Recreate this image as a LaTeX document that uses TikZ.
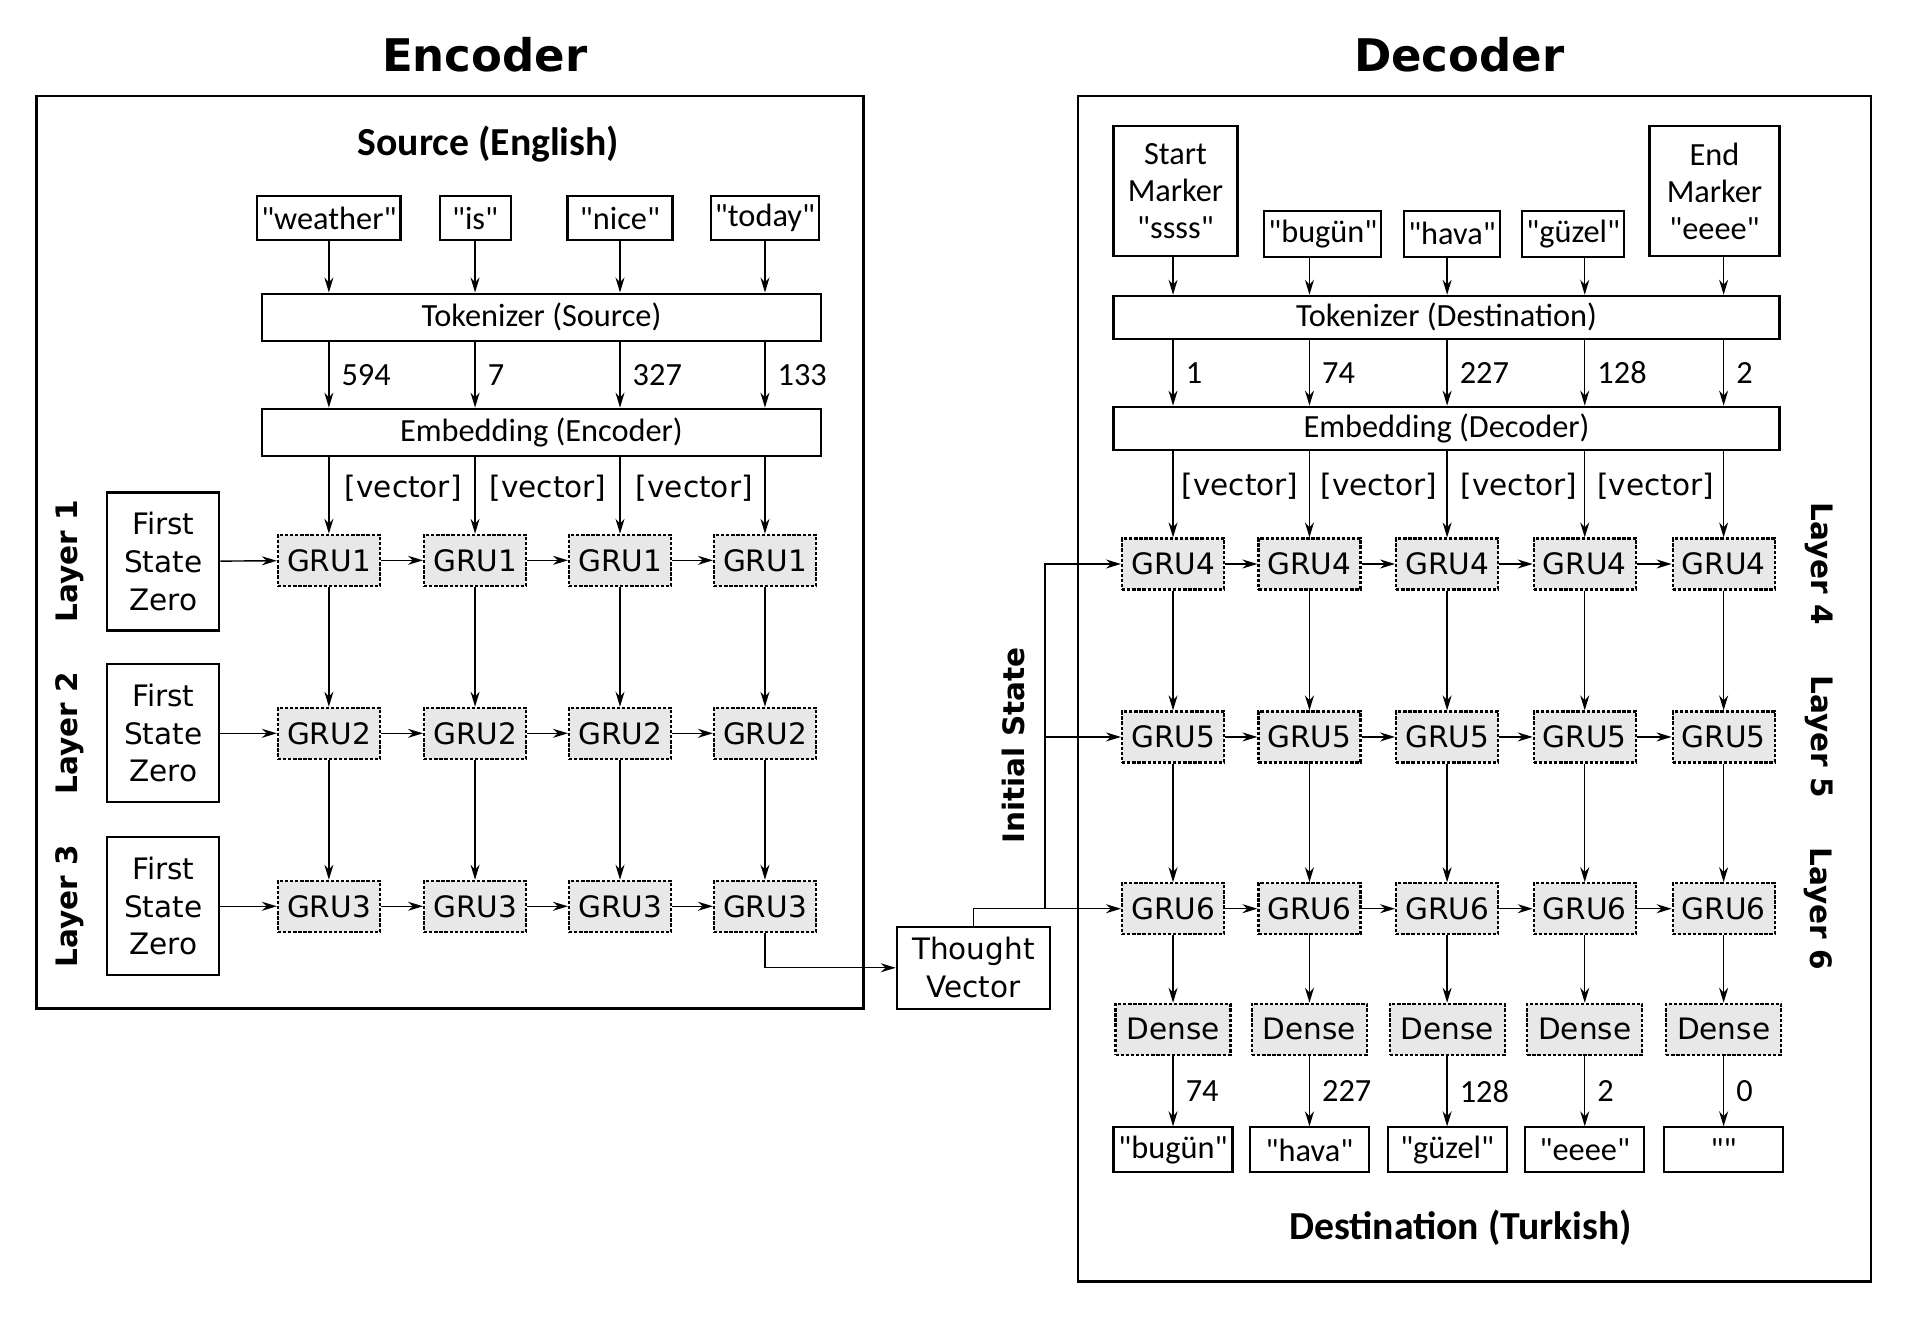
\documentclass[tikz,border=0pt]{standalone}
\usepackage{fontspec}
\setmainfont{Carlito}[Ligatures=TeXOff]
\newfontfamily\djv{DejaVu Sans}
\usetikzlibrary{arrows.meta}

\tikzset{
  box/.style={draw, line width=0.6pt, inner xsep=0.4mm, inner ysep=0.3mm,
    align=center, font=\fontsize{9.2}{10.6}\selectfont},
  grubox/.style={draw, line width=0.6pt, dash pattern=on 0.95pt off 0.5pt,
    fill=black!9, minimum width=10.2mm, minimum height=5.1mm, inner sep=0pt,
    font=\djv\fontsize{8.4}{10.7}\selectfont},
  densebox/.style={grubox, minimum width=11.5mm},
  djvbox/.style={draw, line width=0.6pt, inner sep=0pt, align=center,
    font=\djv\fontsize{8.4}{10.7}\selectfont},
  arr/.style={-{Stealth[length=1.5mm,width=0.9mm]}, line width=0.4pt},
  num/.style={right, xshift=0.9mm, inner sep=0.3mm, font=\fontsize{9.2}{10}\selectfont},
  vec/.style={font=\djv\fontsize{8.4}{10}\selectfont},
  lyr/.style={font=\djv\bfseries\fontsize{8.4}{10}\selectfont},
  frame/.style={line width=0.7pt},
  title/.style={font=\djv\bfseries\fontsize{12.8}{14}\selectfont},
  subtitle/.style={font=\bfseries\fontsize{11.3}{13}\selectfont}
}

\begin{document}
\begin{tikzpicture}[x=0.12181mm, y=-0.12181mm]
  \useasboundingbox (0,0) rectangle (1568,1082);

  % encoder
  \node[title] (enc) at (398,45) {Encoder};
  \draw[frame] (30,79) rectangle (709,828);
  \node[subtitle] (src) at (401,118) {Source (English)};

  \node[box, minimum width=13.4mm, minimum height=4.4mm] (w1) at (270,179) {"weather"};
  \node[box, minimum width=7.1mm, minimum height=4.4mm] (w2) at (390,179) {"is"};
  \node[box, minimum width=10.5mm, minimum height=4.4mm] (w3) at (509,179) {"nice"};
  \node[box, minimum width=10.5mm, minimum height=4.4mm] (w4) at (628,179) {"today"};

  \node[box, minimum width=55.9mm, minimum height=4.75mm] (tok) at (444.5,260.5) {Tokenizer (Source)};
  \node[box, minimum width=55.9mm, minimum height=4.75mm] (emb) at (444.5,355) {Embedding (Encoder)};

  \node[vec] (v1) at (331,401) {[vector]};
  \node[vec] (v2) at (450,401) {[vector]};
  \node[vec] (v3) at (570,401) {[vector]};

  \node[djvbox, minimum width=11.2mm, minimum height=13.8mm] (fz1) at (134,461) {First\\State\\Zero};
  \node[djvbox, minimum width=11.2mm, minimum height=13.8mm] (fz2) at (134,602) {First\\State\\Zero};
  \node[djvbox, minimum width=11.2mm, minimum height=13.8mm] (fz3) at (134,744) {First\\State\\Zero};

  \node[lyr, rotate=90] (l1) at (57,461) {Layer 1};
  \node[lyr, rotate=90] (l2) at (57,602) {Layer 2};
  \node[lyr, rotate=90] (l3) at (57,744) {Layer 3};

  \node[grubox] (g11) at (270,460) {GRU1};
  \node[grubox] (g12) at (390,460) {GRU1};
  \node[grubox] (g13) at (509,460) {GRU1};
  \node[grubox] (g14) at (628,460) {GRU1};
  \node[grubox] (g21) at (270,602) {GRU2};
  \node[grubox] (g22) at (390,602) {GRU2};
  \node[grubox] (g23) at (509,602) {GRU2};
  \node[grubox] (g24) at (628,602) {GRU2};
  \node[grubox] (g31) at (270,744) {GRU3};
  \node[grubox] (g32) at (390,744) {GRU3};
  \node[grubox] (g33) at (509,744) {GRU3};
  \node[grubox] (g34) at (628,744) {GRU3};

  \node[djvbox, minimum width=15.3mm, minimum height=8.2mm] (tv) at (799,794.5) {Thought\\Vector};

  \draw[arr] (w1) -- (w1 |- tok.north);
  \draw[arr] (w2) -- (w2 |- tok.north);
  \draw[arr] (w3) -- (w3 |- tok.north);
  \draw[arr] (w4) -- (w4 |- tok.north);
  \draw[arr] (tok.south -| g11) -- node[num] {594} (emb.north -| g11);
  \draw[arr] (tok.south -| g12) -- node[num] {7} (emb.north -| g12);
  \draw[arr] (tok.south -| g13) -- node[num] {327} (emb.north -| g13);
  \draw[arr] (tok.south -| g14) -- node[num] {133} (emb.north -| g14);
  \draw[arr] (emb.south -| g11) -- (g11);
  \draw[arr] (emb.south -| g12) -- (g12);
  \draw[arr] (emb.south -| g13) -- (g13);
  \draw[arr] (emb.south -| g14) -- (g14);

  \draw[arr] (fz1) -- (g11);
  \draw[arr] (g11) -- (g12);
  \draw[arr] (g12) -- (g13);
  \draw[arr] (g13) -- (g14);
  \draw[arr] (fz2) -- (g21);
  \draw[arr] (g21) -- (g22);
  \draw[arr] (g22) -- (g23);
  \draw[arr] (g23) -- (g24);
  \draw[arr] (fz3) -- (g31);
  \draw[arr] (g31) -- (g32);
  \draw[arr] (g32) -- (g33);
  \draw[arr] (g33) -- (g34);

  \draw[arr] (g11) -- (g21);
  \draw[arr] (g12) -- (g22);
  \draw[arr] (g13) -- (g23);
  \draw[arr] (g14) -- (g24);
  \draw[arr] (g21) -- (g31);
  \draw[arr] (g22) -- (g32);
  \draw[arr] (g23) -- (g33);
  \draw[arr] (g24) -- (g34);

  \draw[arr] (g34.south) |- (tv.west);

  % decoder
  \node[title] (dec) at (1198,45) {Decoder};
  \draw[frame] (885,79) rectangle (1536,1052);

  \node[box, minimum width=12.4mm, minimum height=13mm] (st) at (965,157) {Start\\Marker\\"ssss"};
  \node[box, minimum width=11.5mm, minimum height=4.6mm] (b1) at (1086,192) {"bugün"};
  \node[box, minimum width=9mm, minimum height=4.6mm] (b2) at (1192,192) {"hava"};
  \node[box, minimum width=9.9mm, minimum height=4.6mm] (b3) at (1291.5,192) {"güzel"};
  \node[box, minimum width=13mm, minimum height=13mm] (en) at (1407.5,157) {End\\Marker\\"eeee"};

  \node[box, minimum width=66.6mm, minimum height=4.3mm] (tokd) at (1187.5,260.5) {Tokenizer (Destination)};
  \node[box, minimum width=66.6mm, minimum height=4.3mm] (embd) at (1187.5,351.5) {Embedding (Decoder)};

  \node[vec] (v4) at (1018,399) {[vector]};
  \node[vec] (v5) at (1132,399) {[vector]};
  \node[vec] (v6) at (1247,399) {[vector]};
  \node[vec] (v7) at (1359,399) {[vector]};

  \node[grubox] (d41) at (963,463) {GRU4};
  \node[grubox] (d42) at (1075,463) {GRU4};
  \node[grubox] (d43) at (1188,463) {GRU4};
  \node[grubox] (d44) at (1301,463) {GRU4};
  \node[grubox] (d45) at (1415,463) {GRU4};
  \node[grubox] (d51) at (963,605) {GRU5};
  \node[grubox] (d52) at (1075,605) {GRU5};
  \node[grubox] (d53) at (1188,605) {GRU5};
  \node[grubox] (d54) at (1301,605) {GRU5};
  \node[grubox] (d55) at (1415,605) {GRU5};
  \node[grubox] (d61) at (963,746) {GRU6};
  \node[grubox] (d62) at (1075,746) {GRU6};
  \node[grubox] (d63) at (1188,746) {GRU6};
  \node[grubox] (d64) at (1301,746) {GRU6};
  \node[grubox] (d65) at (1415,746) {GRU6};

  \node[densebox] (x1) at (963,845) {Dense};
  \node[densebox] (x2) at (1075,845) {Dense};
  \node[densebox] (x3) at (1188,845) {Dense};
  \node[densebox] (x4) at (1301,845) {Dense};
  \node[densebox] (x5) at (1415,845) {Dense};

  \node[box, minimum width=11.9mm, minimum height=4.5mm] (o1) at (963,944) {"bugün"};
  \node[box, minimum width=11.9mm, minimum height=4.5mm] (o2) at (1075,944) {"hava"};
  \node[box, minimum width=11.9mm, minimum height=4.5mm] (o3) at (1188,944) {"güzel"};
  \node[box, minimum width=11.9mm, minimum height=4.5mm] (o4) at (1301,944) {"eeee"};
  \node[box, minimum width=11.9mm, minimum height=4.5mm] (o5) at (1415,944) {""};

  \node[subtitle] (dst) at (1199,1008) {Destination (Turkish)};

  \node[lyr, rotate=-90] (l4) at (1493,463) {Layer 4};
  \node[lyr, rotate=-90] (l5) at (1493,605) {Layer 5};
  \node[lyr, rotate=-90] (l6) at (1493,746) {Layer 6};
  \node[lyr, rotate=90] (ini) at (832,612) {Initial State};

  \draw[arr] (st.south -| d41) -- (tokd.north -| d41);
  \draw[arr] (b1.south -| d42) -- (tokd.north -| d42);
  \draw[arr] (b2.south -| d43) -- (tokd.north -| d43);
  \draw[arr] (b3.south -| d44) -- (tokd.north -| d44);
  \draw[arr] (en.south -| d45) -- (tokd.north -| d45);
  \draw[arr] (tokd.south -| d41) -- node[num] {1} (embd.north -| d41);
  \draw[arr] (tokd.south -| d42) -- node[num] {74} (embd.north -| d42);
  \draw[arr] (tokd.south -| d43) -- node[num] {227} (embd.north -| d43);
  \draw[arr] (tokd.south -| d44) -- node[num] {128} (embd.north -| d44);
  \draw[arr] (tokd.south -| d45) -- node[num] {2} (embd.north -| d45);
  \draw[arr] (embd.south -| d41) -- (d41);
  \draw[arr] (embd.south -| d42) -- (d42);
  \draw[arr] (embd.south -| d43) -- (d43);
  \draw[arr] (embd.south -| d44) -- (d44);
  \draw[arr] (embd.south -| d45) -- (d45);

  \draw[arr] (d41) -- (d42);
  \draw[arr] (d42) -- (d43);
  \draw[arr] (d43) -- (d44);
  \draw[arr] (d44) -- (d45);
  \draw[arr] (d51) -- (d52);
  \draw[arr] (d52) -- (d53);
  \draw[arr] (d53) -- (d54);
  \draw[arr] (d54) -- (d55);
  \draw[arr] (d61) -- (d62);
  \draw[arr] (d62) -- (d63);
  \draw[arr] (d63) -- (d64);
  \draw[arr] (d64) -- (d65);

  \draw[arr] (d41) -- (d51);
  \draw[arr] (d42) -- (d52);
  \draw[arr] (d43) -- (d53);
  \draw[arr] (d44) -- (d54);
  \draw[arr] (d45) -- (d55);
  \draw[arr] (d51) -- (d61);
  \draw[arr] (d52) -- (d62);
  \draw[arr] (d53) -- (d63);
  \draw[arr] (d54) -- (d64);
  \draw[arr] (d55) -- (d65);
  \draw[arr] (d61) -- (x1);
  \draw[arr] (d62) -- (x2);
  \draw[arr] (d63) -- (x3);
  \draw[arr] (d64) -- (x4);
  \draw[arr] (d65) -- (x5);
  \draw[arr] (x1) -- node[num] {74} (o1);
  \draw[arr] (x2) -- node[num] {227} (o2);
  \draw[arr] (x3) -- node[num] {128} (o3);
  \draw[arr] (x4) -- node[num] {2} (o4);
  \draw[arr] (x5) -- node[num] {0} (o5);

  % initial state
  \coordinate (split) at (858,746);
  \draw[arr] (tv.north) |- (d61.west);
  \draw[arr] (split) |- (d51.west);
  \draw[arr] (split) |- (d41.west);
\end{tikzpicture}
\end{document}
